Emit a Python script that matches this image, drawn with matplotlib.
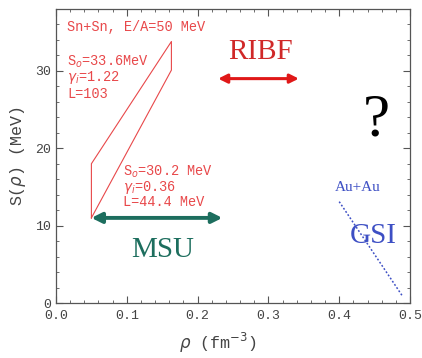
import matplotlib
matplotlib.use("Agg")
import matplotlib.pyplot as plt
from matplotlib.ticker import MultipleLocator

# Sn+Sn constraint region (density, symmetry energy)
band_rho = [0.05, 0.05, 0.163, 0.163, 0.05]
band_S = [11.0, 18.0, 33.8, 30.1, 11.0]

# Au+Au constraint line
auau_rho = [0.40, 0.49]
auau_S = [13.1, 0.8]

# density ranges of facilities: (rho_min, rho_max, S level)
msu_range = (0.05, 0.235, 11.0)
ribf_range = (0.229, 0.343, 29.0)

red = "#e8484a"
teal = "#1d6e5e"
blue = "#3d4fc4"
mono = "Liberation Mono"
serif = "Liberation Serif"

fig = plt.figure(figsize=(4.22, 3.58), dpi=100)
ax = fig.add_axes([0.1327, 0.1536, 0.8389, 0.8213])

ax.plot(band_rho, band_S, color=red, lw=0.8)
ax.plot(auau_rho, auau_S, color=blue, lw=1.1, ls=(0, (1.2, 1.3)))

ax.annotate("", xy=(msu_range[0], msu_range[2]), xytext=(msu_range[1], msu_range[2]),
            arrowprops=dict(arrowstyle="<|-|>", color=teal, lw=2.8,
                            mutation_scale=15, shrinkA=0, shrinkB=0))
ax.annotate("", xy=(ribf_range[0], ribf_range[2]), xytext=(ribf_range[1], ribf_range[2]),
            arrowprops=dict(arrowstyle="<|-|>", color="#e01818", lw=2.2,
                            mutation_scale=13, shrinkA=0, shrinkB=0))

fs = 9.8
ax.text(0.016, 35.7, "Sn+Sn, E/A=50 MeV", color=red, family=mono, fontsize=fs,
        va="center")
for y, s in [(31.2, r"S$_o$=33.6MeV"), (29.1, r"$\gamma_i$=1.22"), (27.0, "L=103")]:
    ax.text(0.016, y, s, color=red, family=mono, fontsize=fs, va="center")
for y, s in [(16.9, r"S$_o$=30.2 MeV"), (14.9, r"$\gamma_i$=0.36"), (13.0, "L=44.4 MeV")]:
    ax.text(0.095, y, s, color=red, family=mono, fontsize=fs, va="center")

ax.text(0.151, 6.9, "MSU", color=teal, family=serif, fontsize=21, ha="center", va="center")
ax.text(0.289, 32.4, "RIBF", color="#d02828", family=serif, fontsize=21, ha="center", va="center")
ax.text(0.453, 23.6, "?", color="black", family=serif, fontsize=44, ha="center", va="center")
ax.text(0.426, 14.9, "Au+Au", color=blue, family=serif, fontsize=11, ha="center", va="center")
ax.text(0.448, 8.6, "GSI", color=blue, family=serif, fontsize=21, ha="center", va="center")

ax.set_xlim(0, 0.5)
ax.set_ylim(0, 38)
ax.xaxis.set_major_locator(MultipleLocator(0.1))
ax.xaxis.set_minor_locator(MultipleLocator(0.02))
ax.yaxis.set_major_locator(MultipleLocator(10))
ax.yaxis.set_minor_locator(MultipleLocator(2))
ax.set_xticks([0.0, 0.1, 0.2, 0.3, 0.4, 0.5])
ax.set_xticklabels(["0.0", "0.1", "0.2", "0.3", "0.4", "0.5"])
ax.tick_params(which="both", direction="in", top=True, right=True, color="#555555")
ax.tick_params(which="major", length=5, width=0.8, labelsize=9.5, labelcolor="#444444")
ax.tick_params(axis="x", which="major", pad=5)
ax.tick_params(which="minor", length=2.5, width=0.6)
for lab in ax.get_xticklabels() + ax.get_yticklabels():
    lab.set_family(mono)
for sp in ax.spines.values():
    sp.set_color("#555555")
    sp.set_linewidth(0.9)

ax.set_xlabel(r"$\rho$ (fm$^{-3}$)", family=mono, fontsize=12, color="#444444")
ax.xaxis.set_label_coords(0.456, -0.095)
ax.set_ylabel(r"S($\rho$) (MeV)", family=mono, fontsize=12, color="#444444", labelpad=5)

fig.savefig("out.png", dpi=100)
